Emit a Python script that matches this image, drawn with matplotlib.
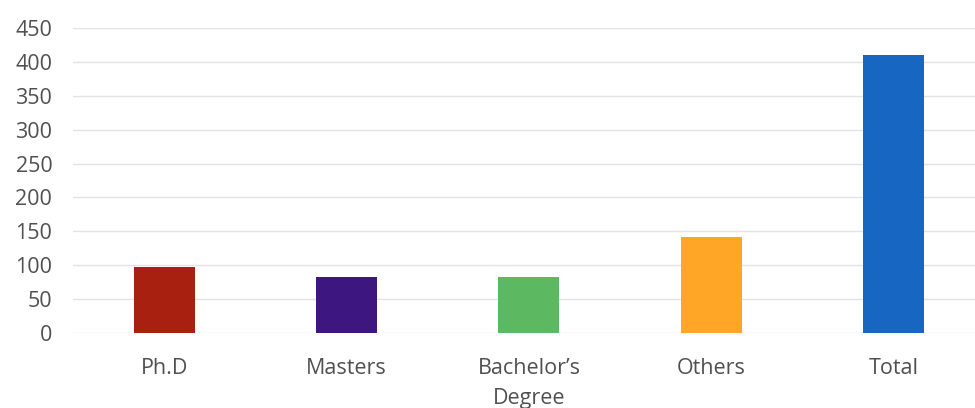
import matplotlib.pyplot as plt

categories = ['Ph.D', 'Masters', 'Bachelor\u2019s\nDegree', 'Others', 'Total']
values = [98, 83, 83, 141, 411]
colors = ['#A8200F', '#3E1680', '#5DB862', '#FFA626', '#1767C2']

plt.rcParams['font.family'] = ['Open Sans', 'DejaVu Sans']

fig = plt.figure(figsize=(9.75, 4.08), dpi=100)
ax = fig.add_axes([0.075, 0.184, 0.935, 0.747])

x = range(len(categories))
ax.bar(x, values, width=0.335, color=colors, zorder=3)

ax.set_ylim(0, 450)
ax.set_yticks(range(0, 451, 50))
ax.set_xlim(-0.5, len(categories) - 0.5)
ax.set_xticks(list(x))
ax.set_xticklabels(categories, linespacing=1.55)

ax.grid(axis='y', color='#E3E3E3', linewidth=1, zorder=0)
for s in ax.spines.values():
    s.set_visible(False)
ax.tick_params(axis='both', length=0, labelsize=15.5, colors='#505050')
ax.tick_params(axis='x', pad=18)
ax.tick_params(axis='y', pad=15)

fig.savefig('out.png', dpi=100)
